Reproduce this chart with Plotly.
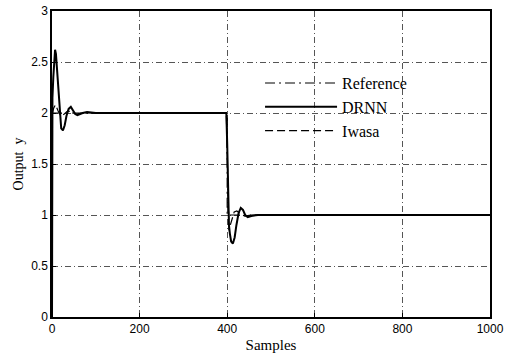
import plotly.graph_objects as go

# Reference signal (step from 2 to 1 at sample 400)
ref_x = [0, 400, 400, 1000]
ref_y = [2.0, 2.0, 1.0, 1.0]

# DRNN response
drnn_x = [0, 1, 3, 5, 7, 9, 12, 15, 18, 21, 25, 29, 33, 38, 43, 48, 53, 58, 63, 70, 80, 100, 200, 300, 398,
          400, 402, 404, 406, 409, 413, 417, 421, 426, 431, 436, 441, 447, 455, 470, 500, 1000]
drnn_y = [0.0, 2.15, 2.35, 2.55, 2.62, 2.58, 2.4, 2.15, 1.95, 1.85, 1.83, 1.88, 1.97, 2.04, 2.06, 2.03, 1.99, 1.98, 1.99, 2.0, 2.01, 2.0, 2.0, 2.0, 2.0,
          1.7, 1.2, 0.9, 0.82, 0.74, 0.72, 0.78, 0.9, 1.02, 1.07, 1.05, 1.0, 0.98, 0.99, 1.0, 1.0, 1.0]

# Iwasa response
iwasa_x = [0, 1, 4, 8, 14, 20, 28, 36, 45, 55, 70, 100, 300, 398,
           400, 402, 404, 407, 411, 416, 422, 430, 440, 455, 480, 1000]
iwasa_y = [0.0, 2.0, 2.05, 2.08, 2.02, 1.97, 1.99, 2.02, 2.01, 1.99, 2.0, 2.0, 2.0, 2.0,
           1.6, 1.1, 0.85, 0.9, 0.97, 1.03, 1.04, 1.01, 0.99, 1.0, 1.0, 1.0]

x_ticks = [0, 200, 400, 600, 800, 1000]
y_ticks = [0, 0.5, 1, 1.5, 2, 2.5, 3]

fig = go.Figure()
fig.add_trace(go.Scatter(x=ref_x, y=ref_y, mode="lines", name="Reference",
                         line=dict(color="black", width=1.2, dash="10px,4px,2px,4px")))
fig.add_trace(go.Scatter(x=drnn_x, y=drnn_y, mode="lines", name="DRNN",
                         line=dict(color="black", width=2)))
fig.add_trace(go.Scatter(x=iwasa_x, y=iwasa_y, mode="lines", name="Iwasa",
                         line=dict(color="black", width=1.2, dash="8px,4px")))

fig.update_layout(
    width=516, height=357,
    margin=dict(l=52, r=26, t=11, b=40),
    paper_bgcolor="white", plot_bgcolor="white",
    showlegend=True,
    legend=dict(x=0.475, y=0.82, xanchor="left", yanchor="top",
                bgcolor="rgba(0,0,0,0)", itemwidth=72,
                font=dict(family="Liberation Serif", size=16, color="black")),
)
fig.update_xaxes(range=[0, 1000], tickvals=x_ticks, ticktext=[str(v) for v in x_ticks],
                 automargin=False,
                 showline=True, mirror=True, linecolor="black", linewidth=1.5,
                 ticks="inside", ticklen=4, tickcolor="black",
                 showgrid=True, gridcolor="#555", gridwidth=0.7, griddash="6px,3px,1px,3px",
                 zeroline=False,
                 tickfont=dict(family="Liberation Sans", size=12, color="black"),
                 title=dict(text="Samples", standoff=4,
                            font=dict(family="Liberation Serif", size=15, color="black")))
fig.update_yaxes(range=[0, 3], tickvals=y_ticks, ticktext=["0", "0.5", "1", "1.5", "2", "2.5", "3"],
                 automargin=False,
                 showline=True, mirror=True, linecolor="black", linewidth=1.5,
                 ticks="inside", ticklen=4, tickcolor="black",
                 showgrid=True, gridcolor="#555", gridwidth=0.7, griddash="6px,3px,1px,3px",
                 zeroline=False,
                 tickfont=dict(family="Liberation Sans", size=12, color="black"),
                 title=dict(text="Output  y", standoff=4,
                            font=dict(family="Liberation Serif", size=14, color="black")))

fig.write_html("out.html", config={"displayModeBar": False},
               post_script="document.body.style.margin='0';")
